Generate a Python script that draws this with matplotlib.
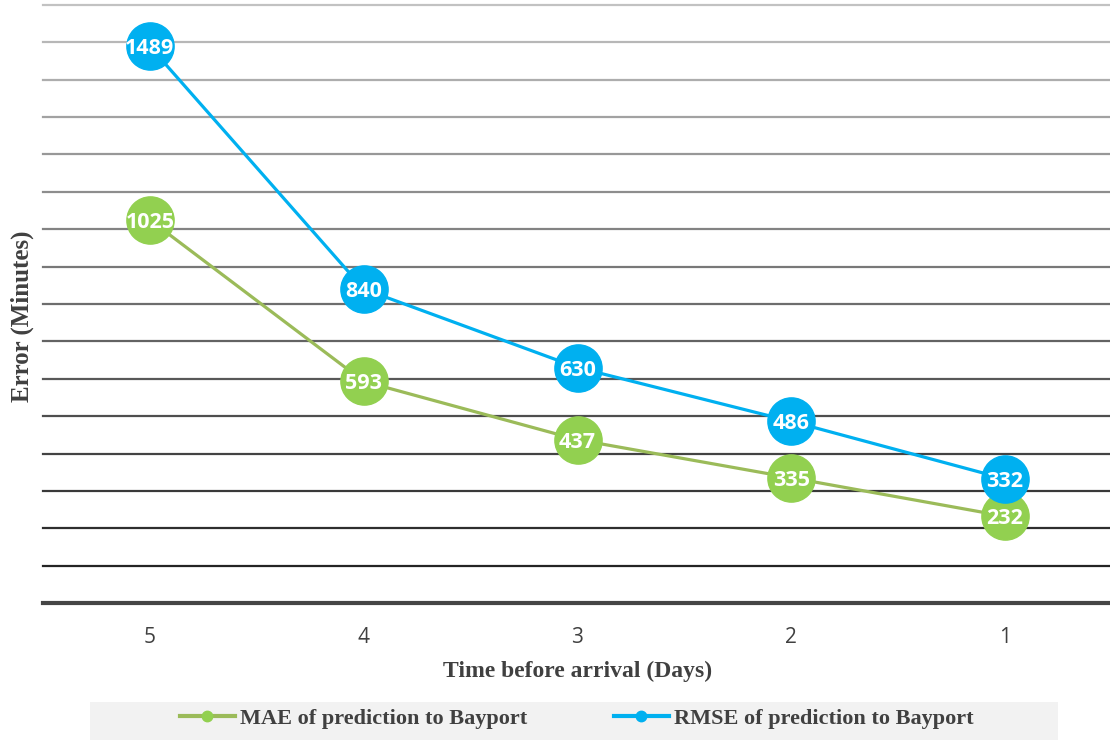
import matplotlib
matplotlib.use("Agg")
import matplotlib.pyplot as plt
from matplotlib.patches import Rectangle
from matplotlib.lines import Line2D
import numpy as np

categories = ["5", "4", "3", "2", "1"]
mae_values = [1025, 593, 437, 335, 232]
rmse_values = [1489, 840, 630, 486, 332]
series_names = ["MAE of prediction to Bayport", "RMSE of prediction to Bayport"]

W, H = 1110, 740
fig = plt.figure(figsize=(W / 100, H / 100), dpi=100)

def fx(px):
    return px / W

def fy(py):
    return 1 - py / H

ax_left, ax_right, ax_top, ax_bottom = 43, 1112, 5, 603
ax = fig.add_axes([fx(ax_left), fy(ax_bottom), fx(ax_right - ax_left), fy(ax_top) - fy(ax_bottom)])
ax.set_xlim(-0.5, len(categories) - 0.5)
ax.set_ylim(0, 1600)
for s in ["top", "right", "left"]:
    ax.spines[s].set_visible(False)
ax.spines["bottom"].set_color("#454545")
ax.spines["bottom"].set_linewidth(3)
ax.spines["bottom"].set_zorder(1)

# gradient gridlines
grid_vals = np.arange(100, 1601, 100)
c_top = np.array([0.76, 0.76, 0.76])
c_bot = np.array([0.14, 0.14, 0.14])
for v in grid_vals:
    t = (v - 100) / 1500
    col = c_bot + (c_top - c_bot) * t
    ax.axhline(v, color=col, lw=1.6, zorder=0, clip_on=False)

x = np.arange(len(categories))
green_line = "#9bbb59"
green_mk = "#92d050"
blue = "#00b0f0"

ax.plot(x, mae_values, color=green_line, lw=2.3, zorder=2)
ax.plot(x, mae_values, ls="none", marker="o", ms=34, mfc=green_mk, mec=green_mk, zorder=3)
ax.plot(x, rmse_values, color=blue, lw=2.3, zorder=4)
ax.plot(x, rmse_values, ls="none", marker="o", ms=34, mfc=blue, mec=blue, zorder=5)

for xi, v in zip(x, mae_values):
    ax.text(xi, v, str(v), color="white", fontsize=15.5, fontweight="bold",
            family="Open Sans", ha="center", va="center_baseline", zorder=6)
for xi, v in zip(x, rmse_values):
    ax.text(xi, v, str(v), color="white", fontsize=15.5, fontweight="bold",
            family="Open Sans", ha="center", va="center_baseline", zorder=7)

ax.set_xticks(x)
ax.set_xticklabels(categories, family="Open Sans", fontsize=15, color="#404040")
ax.tick_params(axis="x", length=0, pad=17)
ax.set_yticks([])

fig.text(fx(578), fy(671), "Time before arrival (Days)", family="Liberation Serif",
         fontweight="bold", fontsize=17, color="#404040", ha="center", va="center")
fig.text(fx(22), fy(316), "Error (Minutes)", family="Liberation Serif",
         fontweight="bold", fontsize=18, color="#404040", ha="center", va="center", rotation=90)

# legend background
fig.patches.append(Rectangle((fx(90), 0), fx(1058 - 90), fy(702),
                             transform=fig.transFigure, facecolor="#f2f2f2", edgecolor="none", zorder=0))
handles = [
    Line2D([], [], color=green_line, lw=3, marker="o", ms=7.5, mfc=green_mk, mec=green_mk),
    Line2D([], [], color=blue, lw=3, marker="o", ms=7.5, mfc=blue, mec=blue),
]
fig.legend(handles, series_names, loc="center", bbox_to_anchor=(fx(577), fy(719)), ncol=2,
           frameon=False, handlelength=2.45, handletextpad=0.25, columnspacing=3.9,
           prop={"family": "Liberation Serif", "weight": "bold", "size": 16},
           labelcolor="#404040")

fig.savefig("out.png", dpi=100)
